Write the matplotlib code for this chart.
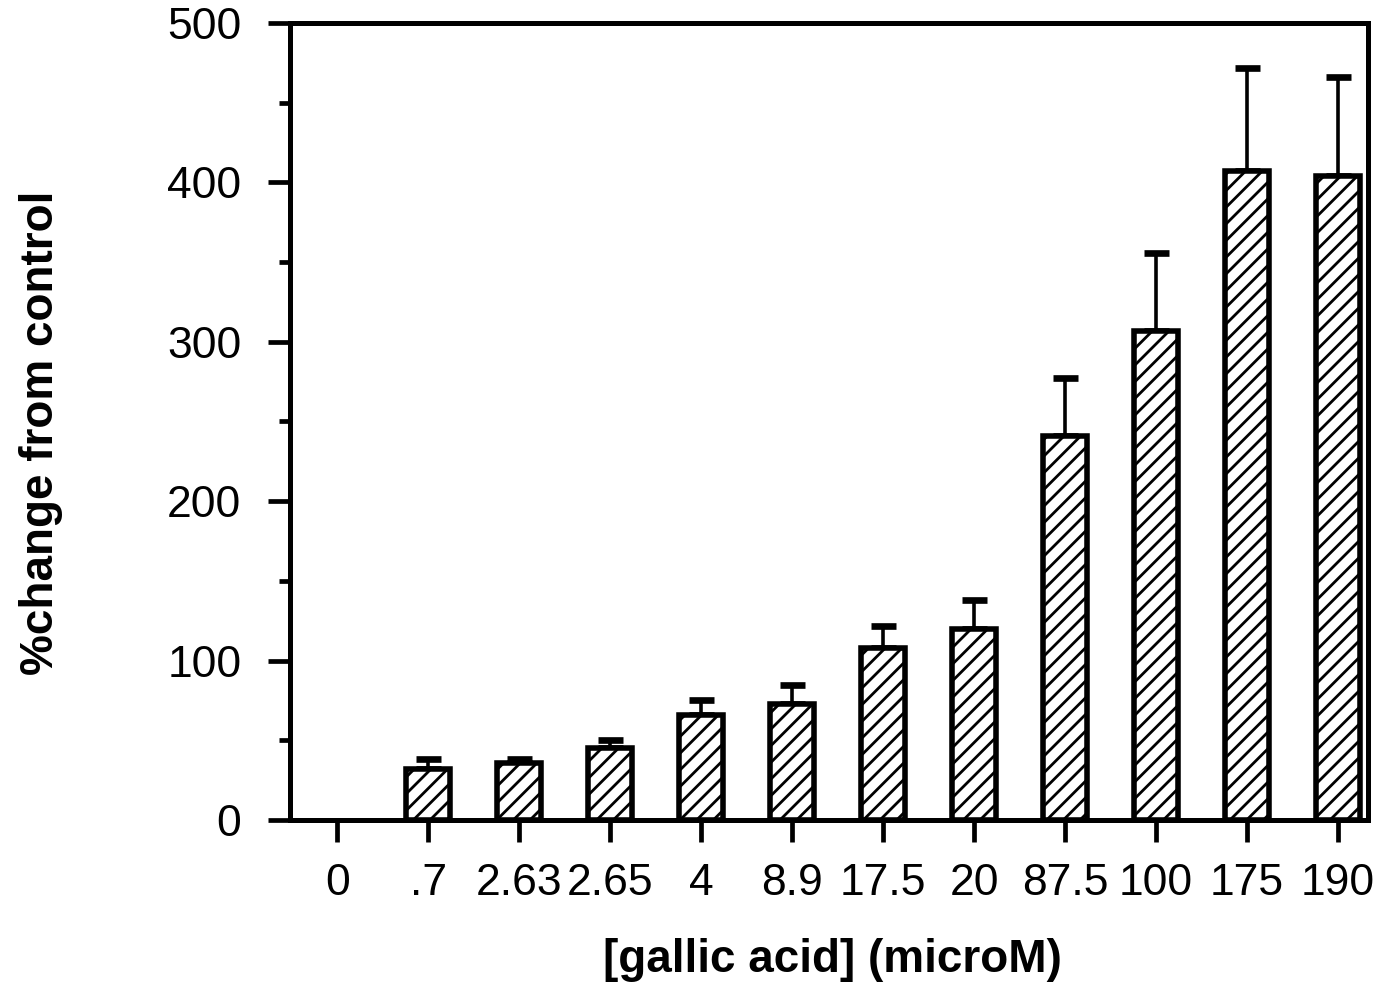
import matplotlib
matplotlib.use("Agg")
import matplotlib.pyplot as plt
import numpy as np
from matplotlib.ticker import MultipleLocator

plt.rcParams['font.family'] = ['Liberation Sans', 'DejaVu Sans']
plt.rcParams['hatch.linewidth'] = 2.0

# gallic acid concentration (microM) and % change from control
doses = ["0", ".7", "2.63", "2.65", "4", "8.9", "17.5", "20", "87.5", "100", "175", "190"]
change = [0, 32, 36, 45, 66, 73, 108, 120, 241, 307, 407, 404]
sem = [0, 6, 2, 5, 9, 12, 14, 18, 36, 49, 65, 62]

x = np.arange(len(doses))

fig = plt.figure(figsize=(13.85, 9.9), dpi=100)
ax = fig.add_axes([0.2094, 0.1717, 0.7783, 0.8051])

bars = ax.bar(x, change, width=0.48, color='white', edgecolor='black', linewidth=4.0,
              hatch='//', zorder=2)
# control (0) has no bar, don't let its outline poke over the axis
for b, v in zip(bars, change):
    if v == 0:
        b.set_linewidth(0)

# upper error bars only
has_err = [i for i in range(len(sem)) if sem[i] > 0]
ax.errorbar(x[has_err], np.array(change)[has_err],
            yerr=[np.zeros(len(has_err)), np.array(sem)[has_err]],
            fmt='none', ecolor='black', elinewidth=2.6, capsize=9, capthick=4.8,
            zorder=1)

ax.set_xlim(-0.52, 11.33)
ax.set_ylim(0, 500)
ax.set_xticks(x)
ax.set_xticklabels(doses)
ax.yaxis.set_major_locator(MultipleLocator(100))
ax.yaxis.set_minor_locator(MultipleLocator(50))

for s in ax.spines.values():
    s.set_linewidth(3.6)

ax.tick_params(axis='both', which='major', direction='out', length=16, width=3.4,
               labelsize=32)
ax.tick_params(axis='y', which='minor', direction='out', length=8, width=3.4)
ax.tick_params(axis='y', pad=19)
ax.tick_params(axis='x', pad=15)

ax.set_xlabel("[gallic acid] (microM)", fontsize=33, fontweight='bold')
ax.set_ylabel("%change from control", fontsize=33, fontweight='bold')
ax.xaxis.set_label_coords(0.503, -0.148)
ax.yaxis.set_label_coords(-0.211, 0.486)

fig.savefig("out.png", dpi=100)
